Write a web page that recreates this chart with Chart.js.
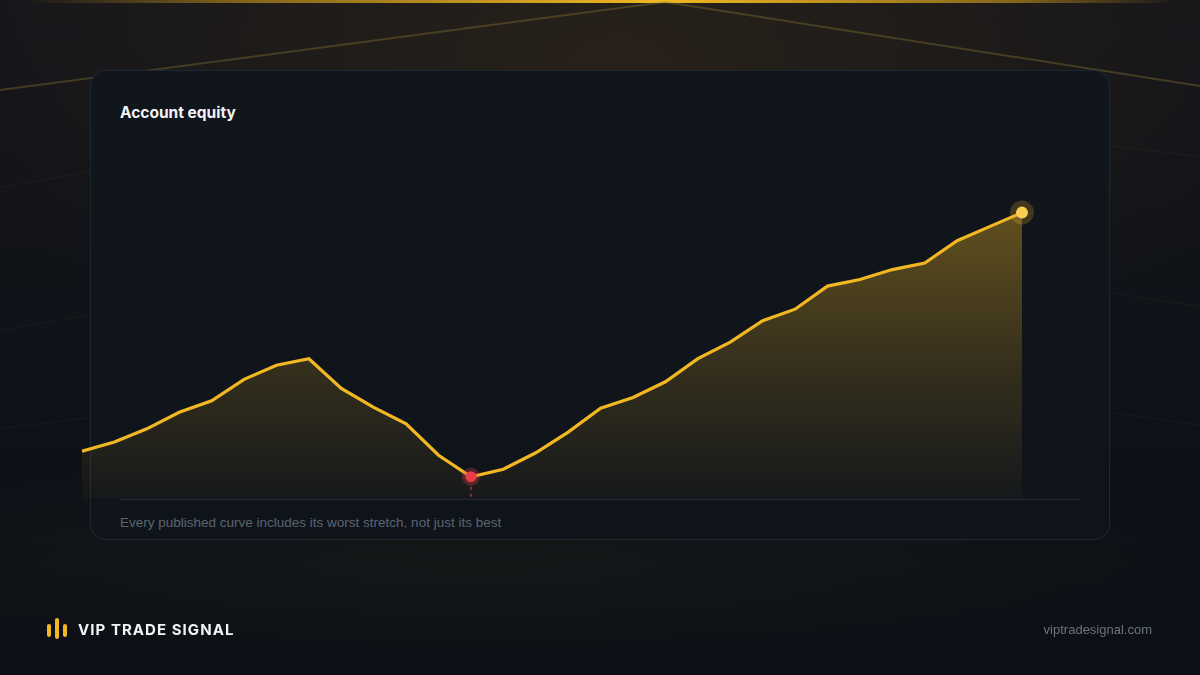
<!DOCTYPE html>
<html>
<head>
<meta charset="utf-8">
<script src="https://cdn.jsdelivr.net/npm/chart.js@4.4.1/dist/chart.umd.min.js"></script>
<style>
  html, body { margin: 0; padding: 0; }
  body {
    width: 1200px; height: 675px; overflow: hidden; position: relative;
    font-family: Inter, "Liberation Sans", Arial, sans-serif;
    background:
      radial-gradient(ellipse 700px 330px at 620px 60px, rgba(62,48,24,0.45), rgba(62,48,24,0) 100%),
      radial-gradient(ellipse 800px 110px at 480px 565px, rgba(58,56,28,0.18), rgba(58,56,28,0) 100%),
      linear-gradient(180deg, #15151a 0%, #0f1218 55%, #0b0f16 100%);
  }
  .topline {
    position: absolute; left: 0; top: 0; width: 1200px; height: 3px;
    background: linear-gradient(90deg, rgba(212,160,30,0) 2%, rgba(212,160,30,0.55) 20%, #f2b824 55%, rgba(212,160,30,0.55) 85%, rgba(212,160,30,0) 98%);
  }
  .ray { position: absolute; height: 2px; background: rgba(140,120,50,0.38); transform-origin: 0 50%; }
  .faint { position: absolute; height: 1px; background: rgba(255,235,180,0.045); transform-origin: 0 50%; }
  .card {
    position: absolute; left: 90px; top: 70px; width: 1018px; height: 468px;
    border-radius: 16px; border: 1px solid rgba(120,140,170,0.15);
    background: linear-gradient(180deg, #11151c 0%, #0f141b 100%);
  }
  .title { position: absolute; left: 120px; top: 103px; font-size: 15.5px; font-weight: 700; color: #f2f3f5; }
  .caption { position: absolute; left: 120px; top: 515px; font-family: "Liberation Sans", Arial, sans-serif; font-size: 13.5px; color: #5d6470; }
  #chart { position: absolute; left: 0; top: 0; }
  .brand { position: absolute; left: 78px; top: 620px; font-size: 15px; font-weight: 700; color: #f2f3f5; letter-spacing: 1.05px; }
  .bar { position: absolute; width: 4px; background: #f2b824; border-radius: 2px; }
  .site { position: absolute; right: 48px; top: 622px; font-family: "Liberation Sans", Arial, sans-serif; font-size: 13px; color: #6b7280; }
</style>
</head>
<body>
<div class="topline"></div>
<div class="ray" style="left:665px;top:1px;width:671px;transform:rotate(172.46deg);"></div>
<div class="ray" style="left:665px;top:1px;width:542px;transform:rotate(8.92deg);"></div>
<div class="faint" style="left:0;top:187px;width:92px;transform:rotate(-10deg);"></div>
<div class="faint" style="left:0;top:330px;width:92px;transform:rotate(-10deg);"></div>
<div class="faint" style="left:0;top:428px;width:92px;transform:rotate(-7deg);"></div>
<div class="faint" style="left:1110px;top:145px;width:92px;transform:rotate(7deg);"></div>
<div class="faint" style="left:1110px;top:292px;width:92px;transform:rotate(9deg);"></div>
<div class="faint" style="left:1110px;top:412px;width:92px;transform:rotate(8deg);"></div>
<div class="card"></div>
<div class="title">Account equity</div>
<div class="caption">Every published curve includes its worst stretch, not just its best</div>
<canvas id="chart" width="1200" height="675"></canvas>
<div class="bar" style="left:47px;top:624px;height:13px;"></div>
<div class="bar" style="left:55px;top:618px;height:21px;"></div>
<div class="bar" style="left:63px;top:624px;height:13px;"></div>
<div class="brand">VIP TRADE SIGNAL</div>
<div class="site">viptradesignal.com</div>

<script>
// weekly account equity, USD
const weeks = Array.from({ length: 30 }, (_, i) => 'W' + (i + 1));
const equity = [9600, 9710, 9870, 10070, 10210, 10470, 10640, 10720, 10360, 10130,
                9930, 9550, 9290, 9380, 9580, 9830, 10120, 10250, 10440, 10720,
                10920, 11180, 11320, 11600, 11680, 11800, 11880, 12150, 12320, 12490];
const gridValues = [10000, 12000];
const yMin = 9020, yMax = 14000;

const lowIdx = equity.indexOf(Math.min(...equity));
const lastIdx = equity.length - 1;

const gold = '#f2b824';

// dashed guides + baseline, drawn from the y scale
const guides = {
    id: 'guides',
    beforeDatasetsDraw(chart) {
        const { ctx, chartArea, scales } = chart;
        const x0 = 120, x1 = chartArea.right;
        ctx.save();
        ctx.strokeStyle = 'rgba(130,145,170,0.08)';
        ctx.lineWidth = 1;
        ctx.setLineDash([4, 4]);
        gridValues.forEach(v => {
            const y = Math.round(scales.y.getPixelForValue(v)) + 0.5;
            ctx.beginPath(); ctx.moveTo(x0, y); ctx.lineTo(x1, y); ctx.stroke();
        });
        ctx.setLineDash([]);
        ctx.strokeStyle = 'rgba(130,145,170,0.18)';
        const yb = Math.round(chartArea.bottom) + 0.5;
        ctx.beginPath(); ctx.moveTo(x0, yb); ctx.lineTo(x1, yb); ctx.stroke();
        ctx.restore();
    },
    afterDatasetsDraw(chart) {
        const { ctx, chartArea } = chart;
        const pt = chart.getDatasetMeta(0).data[lowIdx];
        ctx.save();
        ctx.strokeStyle = 'rgba(229,72,77,0.7)';
        ctx.lineWidth = 1.5;
        ctx.setLineDash([3, 4]);
        ctx.beginPath(); ctx.moveTo(pt.x, pt.y + 10); ctx.lineTo(pt.x, chartArea.bottom); ctx.stroke();
        ctx.restore();
    }
};

const ctx = document.getElementById('chart').getContext('2d');
new Chart(ctx, {
    type: 'line',
    data: {
        labels: weeks,
        datasets: [{
            label: 'Equity',
            data: equity.map((v, i) => ({ x: i, y: v })),
            borderColor: gold,
            borderWidth: 3.2,
            tension: 0,
            fill: 'start',
            backgroundColor: c => {
                const area = c.chart.chartArea;
                if (!area) return 'rgba(242,184,36,0.15)';
                const top = c.chart.scales.y.getPixelForValue(Math.max(...equity));
                const g = c.chart.ctx.createLinearGradient(0, top, 0, area.bottom);
                g.addColorStop(0, 'rgba(242,184,36,0.36)');
                g.addColorStop(0.55, 'rgba(242,184,36,0.16)');
                g.addColorStop(1, 'rgba(242,184,36,0.03)');
                return g;
            },
            pointRadius: c => c.dataIndex === lastIdx ? 6 : (c.dataIndex === lowIdx ? 5.5 : 0),
            pointBackgroundColor: c => c.dataIndex === lowIdx ? '#ea3d48' : '#ffd463',
            pointBorderColor: c => c.dataIndex === lowIdx ? 'rgba(234,61,72,0.3)' : 'rgba(242,184,36,0.22)',
            pointBorderWidth: c => c.dataIndex === lastIdx ? 12 : 7,
            pointHoverRadius: 0
        }]
    },
    options: {
        responsive: false,
        animation: false,
        layout: { padding: { left: 82, right: 120, top: 88, bottom: 176 } },
        plugins: { legend: { display: false }, tooltip: { enabled: false } },
        scales: {
            x: { type: 'linear', min: 0, max: 30.79, display: false },
            y: { min: yMin, max: yMax, display: false }
        }
    },
    plugins: [guides]
});
</script>
</body>
</html>
